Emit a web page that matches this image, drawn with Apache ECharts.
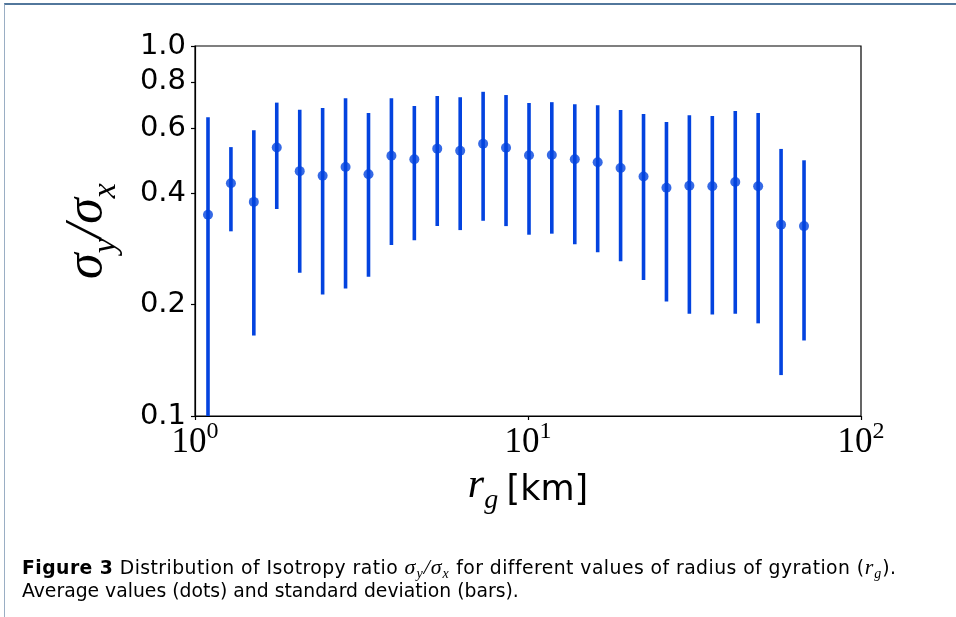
<!DOCTYPE html>
<html><head><meta charset="utf-8">
<script src="https://cdn.jsdelivr.net/npm/echarts@6/dist/echarts.min.js"></script>
<style>
html,body{margin:0;padding:0;background:#fff;width:956px;height:617px;overflow:hidden;}
#frame{position:absolute;left:4px;top:3px;right:0;bottom:0;border-top:2px solid #52779c;border-left:1px solid #9aaec4;}
#chart{position:absolute;left:0;top:0;width:956px;height:617px;}
#cap{position:absolute;left:22px;top:555px;font-family:'DejaVu Sans',sans-serif;font-size:18.8px;line-height:23px;color:#000;white-space:nowrap;}
#cap .l1{letter-spacing:0.45px;}
#cap .m{font-family:'Liberation Serif',serif;font-style:italic;font-size:22px;letter-spacing:1px;}
#cap sub{font-size:14px;vertical-align:baseline;position:relative;top:0.3em;line-height:0;}
</style></head><body>
<div id="frame"></div>
<div id="chart"></div>
<div id="cap"><span class="l1"><b>Figure 3</b> Distribution of Isotropy ratio <span class="m">σ<sub>y</sub>/σ<sub>x</sub></span> for different values of radius of gyration (<span class="m">r<sub>g</sub></span>).</span><br>Average values (dots) and standard deviation (bars).</div>
<script>
// radius of gyration bin centres [km]
const rg = [1.094, 1.282, 1.502, 1.760, 2.063, 2.417, 2.832, 3.319, 3.889, 4.557, 5.339, 6.257, 7.332, 8.590,
            10.07, 11.79, 13.82, 16.19, 18.97, 22.23, 26.05, 30.52, 35.77, 41.92, 49.11, 57.54, 67.44];
// average isotropy ratio (dots)
const meanRatio = [0.350, 0.4255, 0.379, 0.532, 0.459, 0.446, 0.471, 0.450, 0.505, 0.494, 0.528, 0.521, 0.5445, 0.531,
                   0.5065, 0.5075, 0.494, 0.485, 0.468, 0.444, 0.414, 0.419, 0.4176, 0.429, 0.418, 0.329, 0.326];
// upper end of std-dev bar
const barHigh = [0.642, 0.533, 0.592, 0.703, 0.673, 0.680, 0.7225, 0.659, 0.7225, 0.6885, 0.733, 0.727, 0.752, 0.737,
                 0.7015, 0.705, 0.696, 0.692, 0.6715, 0.655, 0.623, 0.650, 0.647, 0.667, 0.659, 0.527, 0.491];
// lower end of std-dev bar
const barLow = [0.100, 0.3156, 0.165, 0.3626, 0.244, 0.213, 0.221, 0.238, 0.290, 0.2985, 0.326, 0.318, 0.337, 0.326,
                0.309, 0.311, 0.291, 0.277, 0.262, 0.233, 0.204, 0.189, 0.188, 0.189, 0.178, 0.129, 0.160];
// tick values
const xTicks = [1, 10, 100];
const yTicks = [0.1, 0.2, 0.4, 0.6, 0.8, 1.0];

const blue = '#0343DF';
const chart = echarts.init(document.getElementById('chart'));
const barData = rg.map((x, i) => [x, barLow[i], barHigh[i]]);
const dotData = rg.map((x, i) => [x, meanRatio[i]]);

chart.setOption({
  animation: false,
  grid: {left: 195, right: 95, top: 46, bottom: 201, show: true, borderColor: '#000', borderWidth: 1.2, containLabel: false},
  xAxis: {
    type: 'log', logBase: 10, min: 1, max: 100,
    axisLine: {show: true, onZero: false, lineStyle: {color: '#000', width: 1.2}},
    axisTick: {show: true, inside: false, length: 4, customValues: xTicks, lineStyle: {color: '#000', width: 1.2}},
    minorTick: {show: false},
    splitLine: {show: false},
    axisLabel: {
      margin: 4,
      customValues: xTicks,
      formatter: v => '{b|10}{s|' + Math.round(Math.log10(v)) + '}',
      rich: {
        b: {fontFamily: 'Liberation Serif', fontSize: 35, color: '#000', verticalAlign: 'bottom', lineHeight: 40},
        s: {fontFamily: 'Liberation Serif', fontSize: 24, color: '#000', verticalAlign: 'top', lineHeight: 40}
      }
    },
    name: '{i|r}{sub|g}{sp| }{n|[km]}',
    nameLocation: 'middle', nameGap: 41,
    nameTextStyle: {
      rich: {
        i: {fontFamily: 'Liberation Serif', fontStyle: 'italic', fontSize: 42, color: '#000', verticalAlign: 'bottom', padding: [0, 0, 8, 0]},
        sub: {fontFamily: 'Liberation Serif', fontStyle: 'italic', fontSize: 28, color: '#000', verticalAlign: 'bottom'},
        sp: {fontSize: 30, verticalAlign: 'bottom'},
        n: {fontFamily: 'DejaVu Sans', fontSize: 35, color: '#000', verticalAlign: 'bottom', padding: [0, 0, 6, 0]}
      }
    }
  },
  yAxis: {
    type: 'log', logBase: 10, min: 0.1, max: 1,
    axisLine: {show: true, onZero: false, lineStyle: {color: '#000', width: 1.2}},
    axisTick: {show: true, inside: false, length: 4, customValues: yTicks, lineStyle: {color: '#000', width: 1.2}},
    minorTick: {show: false},
    splitLine: {show: false},
    axisLabel: {
      customValues: yTicks, margin: 9,
      fontFamily: 'DejaVu Sans', fontSize: 29, color: '#000',
      formatter: v => Number(v).toFixed(1)
    },
    name: '{i|σ}{sub|y}{i|/σ}{sub|x}',
    nameLocation: 'middle', nameGap: 72, nameRotate: 90,
    nameTextStyle: {
      rich: {
        i: {fontFamily: 'Liberation Serif', fontStyle: 'italic', fontSize: 52, color: '#000', verticalAlign: 'bottom', padding: [0, 0, 10, 0]},
        sub: {fontFamily: 'Liberation Serif', fontStyle: 'italic', fontSize: 34, color: '#000', verticalAlign: 'bottom'}
      }
    }
  },
  series: [
    {
      type: 'custom',
      data: barData,
      clip: true,
      renderItem: (params, api) => {
        const p1 = api.coord([api.value(0), api.value(1)]);
        const p2 = api.coord([api.value(0), api.value(2)]);
        return {type: 'line', shape: {x1: p1[0], y1: p1[1], x2: p2[0], y2: p2[1]},
                style: {stroke: blue, lineWidth: 3.6}};
      },
      z: 2
    },
    {
      type: 'scatter',
      data: dotData,
      symbol: 'circle', symbolSize: 10,
      itemStyle: {color: blue},
      z: 3
    }
  ]
});
</script>
</body></html>
